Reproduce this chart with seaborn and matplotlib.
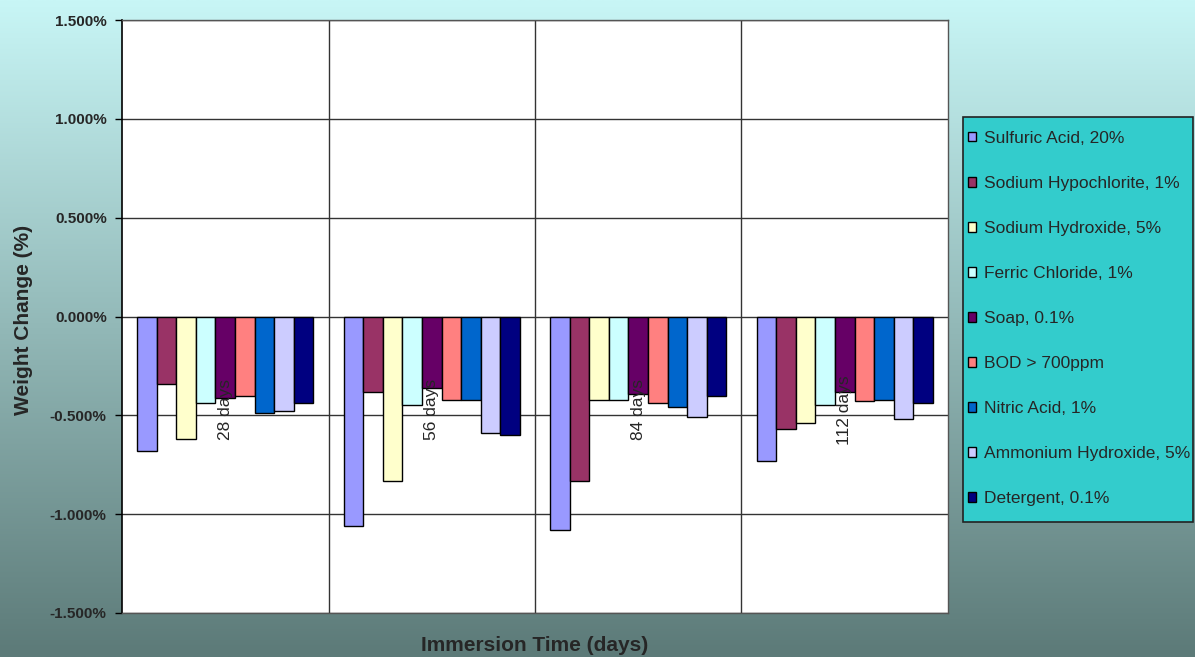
import numpy as np
import pandas as pd
import matplotlib
matplotlib.use("Agg")
import matplotlib.pyplot as plt
import seaborn as sns
from matplotlib.patches import Patch, Rectangle

times = ["28 days", "56 days", "84 days", "112 days"]
solutions = ["Sulfuric Acid, 20%", "Sodium Hypochlorite, 1%", "Sodium Hydroxide, 5%",
             "Ferric Chloride, 1%", "Soap, 0.1%", "BOD > 700ppm", "Nitric Acid, 1%",
             "Ammonium Hydroxide, 5%", "Detergent, 0.1%"]
sulfuric = [-0.68, -1.06, -1.08, -0.73]
hypochlorite = [-0.34, -0.38, -0.83, -0.57]
hydroxide = [-0.62, -0.83, -0.42, -0.54]
ferric = [-0.44, -0.45, -0.42, -0.45]
soap = [-0.41, -0.36, -0.39, -0.38]
bod = [-0.40, -0.42, -0.44, -0.43]
nitric = [-0.49, -0.42, -0.46, -0.42]
ammonium = [-0.48, -0.59, -0.51, -0.52]
detergent = [-0.44, -0.60, -0.40, -0.44]
colors = ["#9999FF", "#993366", "#FFFFCC", "#CCFFFF", "#660066", "#FF8080",
          "#0066CC", "#CCCCFF", "#000080"]
yticks = [-1.5, -1.0, -0.5, 0.0, 0.5, 1.0, 1.5]

series = [sulfuric, hypochlorite, hydroxide, ferric, soap, bod, nitric, ammonium, detergent]
rows = []
for name, vals in zip(solutions, series):
    for t, v in zip(times, vals):
        rows.append({"time": t, "solution": name, "value": v})
df = pd.DataFrame(rows)

sns.set_style("white")
plt.rcParams['font.family'] = ['Liberation Sans', 'DejaVu Sans']

W, H = 1195, 657
fig = plt.figure(figsize=(W / 100, H / 100), dpi=100)

# gradient background
bg = fig.add_axes([0, 0, 1, 1], zorder=-10)
top = np.array([200, 246, 246]) / 255
bot = np.array([92, 122, 120]) / 255
g = np.linspace(0, 1, 256)[:, None]
img = top[None, None, :] * (1 - g[..., None]) + bot[None, None, :] * g[..., None]
img = np.repeat(img, 2, axis=1)
bg.imshow(img, aspect="auto", extent=[0, 1, 0, 1])
bg.axis("off")

ax = fig.add_axes([122 / W, 1 - 613 / H, (948 - 122) / W, (613 - 20) / H])
ax.set_facecolor("white")
sns.barplot(data=df, x="time", y="value", hue="solution", hue_order=solutions,
            order=times, palette=colors, saturation=1, width=0.85, edgecolor="black",
            linewidth=1.0, ax=ax, legend=False, zorder=3)

ax.set_ylim(-1.5, 1.5)
ax.set_xlim(-0.5, len(times) - 0.5)
ax.set_yticks(yticks)
ax.set_yticklabels([f"{v:.3f}%" for v in yticks], fontsize=11, fontweight="bold")
ax.yaxis.grid(True, color="#333333", linewidth=1.0, zorder=0)
ax.set_axisbelow(True)
for b in np.arange(0.5, len(times) - 0.5, 1.0):
    ax.axvline(b, color="#333333", linewidth=1.0, zorder=0)
ax.set_xticks([])
ax.tick_params(axis="y", direction="out", length=5, width=1, color="black", pad=6, left=True)
for s in ["top", "right", "bottom"]:
    ax.spines[s].set_color("#555555")
    ax.spines[s].set_linewidth(1.0)
ax.spines["left"].set_color("black")
ax.spines["left"].set_linewidth(1.2)

for i, t in enumerate(times):
    ax.text(i, -0.472, t, rotation=90, ha="center", va="center", fontsize=12.5,
            zorder=5)

ax.set_xlabel("")
ax.set_ylabel("Weight Change (%)", fontsize=15, fontweight="bold")
ax.yaxis.set_label_coords((33 - 122) / 826, 0.495)
fig.text(534.5 / W, 1 - 636 / H, "Immersion Time (days)", ha="center",
         va="top", fontsize=15, fontweight="bold")

# legend box
fig.patches.append(Rectangle((963 / W, 1 - 522 / H), 230 / W, 405 / H,
                             transform=fig.transFigure, facecolor="#33CCCC",
                             edgecolor="#222222", linewidth=1.2, zorder=1))
handles = [Patch(facecolor=c, edgecolor="black", linewidth=1.0) for c in colors]
leg = fig.legend(handles, solutions, loc="upper left",
                 bbox_to_anchor=(968 / W, 1 - 131 / H), frameon=False,
                 fontsize=12.5, labelspacing=1.73, handlelength=0.45, handleheight=0.45,
                 handletextpad=0.5, borderpad=0.0, borderaxespad=0)

fig.savefig("out.png", dpi=100)
